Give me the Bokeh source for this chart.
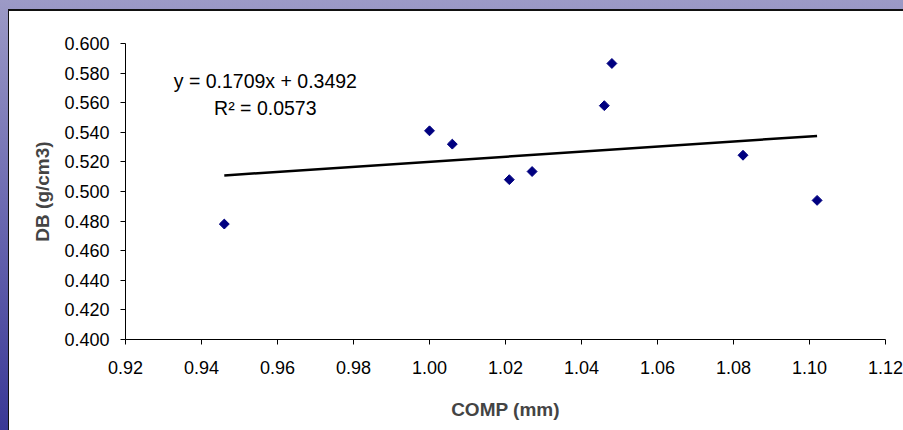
from bokeh.plotting import figure
from bokeh.models import FixedTicker, NumeralTickFormatter, Range1d, Label, ColumnDataSource
from bokeh.embed import file_html
from bokeh.resources import INLINE
import math

# ---- data ----
comp = [0.946, 1.000, 1.006, 1.021, 1.027, 1.046, 1.048, 1.0825, 1.102]
db = [0.478, 0.541, 0.532, 0.508, 0.5135, 0.558, 0.5865, 0.5245, 0.494]

slope = 0.1709
intercept = 0.3492
eq_text = "y = 0.1709x + 0.3492"
r2_text = "R\u00b2 = 0.0573"

x_ticks = [0.92, 0.94, 0.96, 0.98, 1.00, 1.02, 1.04, 1.06, 1.08, 1.10, 1.12]
y_ticks = [0.400, 0.420, 0.440, 0.460, 0.480, 0.500, 0.520, 0.540, 0.560, 0.580, 0.600]

x_label = "COMP (mm)"
y_label = "DB (g/cm3)"

FONT = "Liberation Sans"

p = figure(width=903, height=430, output_backend="svg", toolbar_location=None,
           x_range=Range1d(0.92, 1.12), y_range=Range1d(0.40, 0.60),
           min_border_left=125, min_border_right=18, min_border_top=43, min_border_bottom=91,
           background_fill_color="white", border_fill_color=None)
p.outline_line_color = None
p.grid.visible = False
# slide-style frame: lavender/blue band at top and left, thin black edge, white chart area
p.styles = {
    "background": ("linear-gradient(#ffffff, #ffffff) 9px 11px / 894px 419px no-repeat, "
                   "linear-gradient(#111111, #111111) 8px 9px / 895px 421px no-repeat, "
                   "linear-gradient(to bottom, #9c9ac6 0%, #6a68b0 50%, #3a3896 100%)")
}

for ax, ticks, fmt, lab in ((p.xaxis[0], x_ticks, "0.00", x_label), (p.yaxis[0], y_ticks, "0.000", y_label)):
    ax.ticker = FixedTicker(ticks=ticks)
    ax.formatter = NumeralTickFormatter(format=fmt)
    ax.axis_label = lab
    ax.axis_label_text_font = FONT
    ax.axis_label_text_font_style = "bold"
    ax.axis_label_text_font_size = "19px"
    ax.major_label_text_font = FONT
    ax.major_label_text_font_size = "18px"
    ax.major_label_text_color = "black"
    ax.axis_line_color = "black"
    ax.major_tick_line_color = "black"
    ax.major_tick_out = 5
    ax.major_tick_in = 0
    ax.minor_tick_line_color = None

p.xaxis[0].major_label_standoff = 16
p.xaxis[0].axis_label_standoff = 22
p.yaxis[0].major_label_standoff = 11
p.yaxis[0].axis_label_standoff = 8

# trendline over the data extent
x0, x1 = min(comp), max(comp)
trend = ColumnDataSource(dict(x=[x0, x1], y=[slope * x0 + intercept, slope * x1 + intercept]))
p.line("x", "y", source=trend, line_color="black", line_width=2.5)

src = ColumnDataSource(dict(x=comp, y=db))
p.scatter("x", "y", source=src, marker="square", size=7, angle=math.pi / 4,
          fill_color="#000080", line_color="#000080")

p.add_layout(Label(x=0.9568, y=0.575, text=eq_text, text_font=FONT, text_font_size="19.5px",
                   text_align="center", text_baseline="middle", text_color="black"))
p.add_layout(Label(x=0.9568, y=0.5561, text=r2_text, text_font=FONT, text_font_size="19.5px",
                   text_align="center", text_baseline="middle", text_color="black"))

open("out.html", "w").write(file_html(p, INLINE))
